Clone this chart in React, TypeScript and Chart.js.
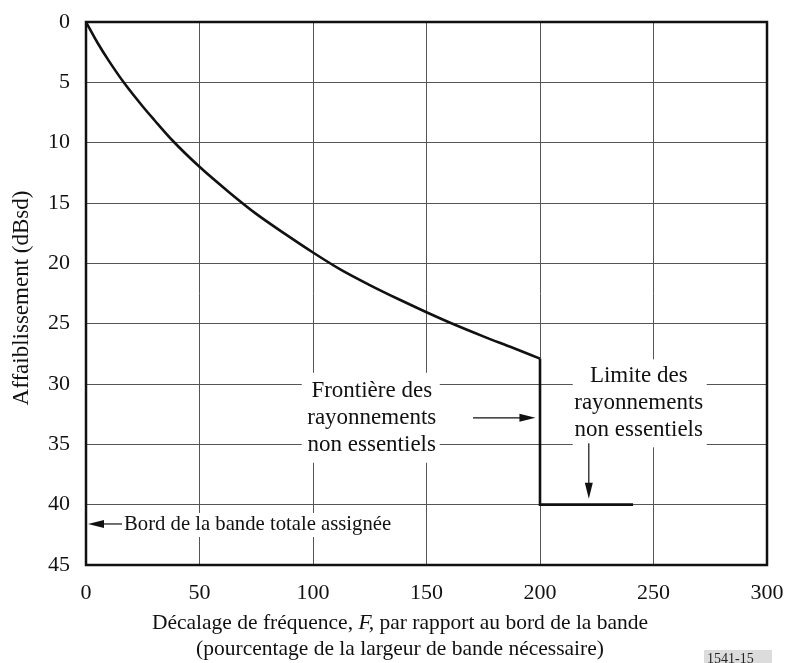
import React, { useEffect, useRef } from "react";
import { Chart, registerables } from "chart.js";

Chart.register(...registerables);

// Data
const curveX = [0, 5, 10, 17, 25, 30, 38, 50, 63, 75, 88, 100, 112, 125, 138, 150, 162, 175, 188, 200];
const curveY = [0, 1.7, 3.2, 5.1, 7.0, 8.1, 9.8, 12.0, 14.1, 15.9, 17.6, 19.1, 20.5, 21.8, 23.0, 24.05, 25.05, 26.05, 27.0, 27.9];
const stepX = [200, 200, 241];
const stepY = [27.9, 40, 40];
const xTicks = [0, 50, 100, 150, 200, 250, 300];
const yTicks = [0, 5, 10, 15, 20, 25, 30, 35, 40, 45];

const yTitle = "Affaiblissement (dBsd)";
const xTitle1a = "Décalage de fréquence, ";
const xTitle1b = "F,";
const xTitle1c = " par rapport au bord de la bande";
const xTitle2 = "(pourcentage de la largeur de bande nécessaire)";
const frontiere = ["Frontière des", "rayonnements", "non essentiels"];
const limite = ["Limite des", "rayonnements", "non essentiels"];
const bord = "Bord de la bande totale assignée";
const figId = "1541-15";

const FONT = '"Liberation Serif", "Times New Roman", serif';

function arrowHead(ctx: CanvasRenderingContext2D, x: number, y: number, dir: "right" | "left" | "down") {
  ctx.beginPath();
  if (dir === "right") {
    ctx.moveTo(x, y);
    ctx.lineTo(x - 16, y - 4);
    ctx.lineTo(x - 16, y + 4);
  } else if (dir === "left") {
    ctx.moveTo(x, y);
    ctx.lineTo(x + 16, y - 4);
    ctx.lineTo(x + 16, y + 4);
  } else {
    ctx.moveTo(x, y);
    ctx.lineTo(x - 4, y - 16);
    ctx.lineTo(x + 4, y - 16);
  }
  ctx.closePath();
  ctx.fill();
}

const annotations = {
  id: "annotations",
  beforeDatasetsDraw(chart: any) {
    const ctx = chart.ctx as CanvasRenderingContext2D;
    const xs = chart.scales.x;
    const ys = chart.scales.y;
    ctx.save();
    ctx.font = `23px ${FONT}`;
    ctx.textAlign = "center";
    ctx.textBaseline = "middle";

    // Frontière box
    const fx = xs.getPixelForValue(125);
    const fy = ys.getPixelForValue(32.8);
    ctx.fillStyle = "#fff";
    ctx.fillRect(fx - 68, fy - 45, 138, 90);
    ctx.fillStyle = "#111";
    frontiere.forEach((t, i) => ctx.fillText(t, fx + 2, fy - 27 + i * 27));
    const ax1 = xs.getPixelForValue(170.5);
    const ax2 = xs.getPixelForValue(198);
    const ay = fy;
    ctx.strokeStyle = "#111";
    ctx.lineWidth = 1.2;
    ctx.beginPath();
    ctx.moveTo(ax1, ay);
    ctx.lineTo(ax2 - 10, ay);
    ctx.stroke();
    arrowHead(ctx, ax2, ay, "right");

    // Limite box
    const lx = xs.getPixelForValue(243.5);
    const ly = ys.getPixelForValue(31.6);
    ctx.fillStyle = "#fff";
    ctx.fillRect(lx - 66, ly - 44, 134, 88);
    ctx.fillStyle = "#111";
    limite.forEach((t, i) => ctx.fillText(t, lx, ly - 27 + i * 27));
    const dx = xs.getPixelForValue(221.5);
    const dy1 = ys.getPixelForValue(34.9);
    const dy2 = ys.getPixelForValue(39.5);
    ctx.beginPath();
    ctx.moveTo(dx, dy1);
    ctx.lineTo(dx, dy2 - 10);
    ctx.stroke();
    arrowHead(ctx, dx, dy2, "down");

    // Bord text
    ctx.font = `20.7px ${FONT}`;
    const by = ys.getPixelForValue(41.6);
    ctx.textAlign = "left";
    const tw = ctx.measureText(bord).width;
    const bx = xs.getPixelForValue(0) + 38;
    ctx.fillStyle = "#fff";
    ctx.fillRect(bx - 2, by - 11, tw + 6, 24);
    ctx.fillStyle = "#111";
    ctx.fillText(bord, bx, by + 1);
    ctx.beginPath();
    ctx.moveTo(bx - 2, by);
    ctx.lineTo(xs.getPixelForValue(0) + 10, by);
    ctx.stroke();
    arrowHead(ctx, xs.getPixelForValue(0) + 2, by, "left");
    ctx.restore();
  },
  afterDraw(chart: any) {
    const ctx = chart.ctx as CanvasRenderingContext2D;
    const a = chart.chartArea;
    ctx.save();
    ctx.strokeStyle = "#111";
    ctx.lineWidth = 2.5;
    ctx.strokeRect(a.left, a.top, a.right - a.left, a.bottom - a.top);

    ctx.fillStyle = "#111";
    ctx.font = `23px ${FONT}`;
    ctx.textAlign = "center";
    ctx.textBaseline = "middle";
    ctx.save();
    ctx.translate(22, 298);
    ctx.rotate(-Math.PI / 2);
    ctx.fillText(yTitle, 0, 0);
    ctx.restore();

    const F = `21.5px ${FONT}`;
    const FI = `italic 21.5px ${FONT}`;
    const cx = 400;
    ctx.font = F;
    ctx.textAlign = "left";
    const w1 = ctx.measureText(xTitle1a).width;
    const w3 = ctx.measureText(xTitle1c).width;
    ctx.font = FI;
    const w2 = ctx.measureText(xTitle1b).width;
    const x0 = cx - (w1 + w2 + w3) / 2;
    const y1 = 623;
    ctx.font = F;
    ctx.fillText(xTitle1a, x0, y1);
    ctx.font = FI;
    ctx.fillText(xTitle1b, x0 + w1, y1);
    ctx.font = F;
    ctx.fillText(xTitle1c, x0 + w1 + w2, y1);
    ctx.textAlign = "center";
    ctx.fillText(xTitle2, cx, 649);

    ctx.fillStyle = "#dcdcdc";
    ctx.fillRect(704, 650, 68, 13);
    ctx.fillStyle = "#222";
    ctx.font = `14px ${FONT}`;
    ctx.textAlign = "left";
    ctx.textBaseline = "top";
    ctx.fillText(figId, 707, 652);
    ctx.restore();
  },
};

export default function App() {
  const ref = useRef<HTMLCanvasElement | null>(null);
  useEffect(() => {
    if (!ref.current) return;
    const curve = curveX.map((x, i) => ({ x, y: curveY[i] }));
    const step = stepX.map((x, i) => ({ x, y: stepY[i] }));
    const chart = new Chart(ref.current, {
      type: "scatter",
      data: {
        datasets: [
          {
            data: curve,
            showLine: true,
            borderColor: "#111",
            borderWidth: 2.6,
            pointRadius: 0,
            cubicInterpolationMode: "monotone",
          },
          {
            data: step,
            showLine: true,
            borderColor: "#111",
            borderWidth: 2.6,
            pointRadius: 0,
            tension: 0,
          },
        ],
      },
      options: {
        animation: false,
        responsive: false,
        maintainAspectRatio: false,
        layout: { padding: { top: 22, right: 18, left: 0, bottom: 0 } },
        plugins: { legend: { display: false }, tooltip: { enabled: false } },
        scales: {
          x: {
            type: "linear",
            min: 0,
            max: 300,
            afterBuildTicks: (s: any) => {
              s.ticks = xTicks.map((v) => ({ value: v }));
            },
            afterFit: (s: any) => {
              s.height = 98;
              s.paddingLeft = 0;
              s.paddingRight = 0;
            },
            grid: { color: "#555", lineWidth: 1, drawTicks: false },
            border: { display: false },
            ticks: {
              color: "#111",
              font: { family: FONT, size: 22 },
              padding: 15,
              maxRotation: 0,
            },
          },
          y: {
            type: "linear",
            reverse: true,
            min: 0,
            max: 45,
            afterBuildTicks: (s: any) => {
              s.ticks = yTicks.map((v) => ({ value: v }));
            },
            afterFit: (s: any) => {
              s.width = 86;
              s.paddingTop = 0;
              s.paddingBottom = 0;
            },
            grid: { color: "#555", lineWidth: 1, drawTicks: false },
            border: { display: false },
            ticks: {
              color: "#111",
              font: { family: FONT, size: 22 },
              padding: 16,
            },
          },
        },
      },
      plugins: [annotations],
    } as any);
    return () => chart.destroy();
  }, []);
  return (
    <div style={{ position: "fixed", left: 0, top: 0, width: 785, height: 663, background: "#fff" }}>
      <canvas ref={ref} width={785} height={663} style={{ width: 785, height: 663, display: "block" }} />
    </div>
  );
}
